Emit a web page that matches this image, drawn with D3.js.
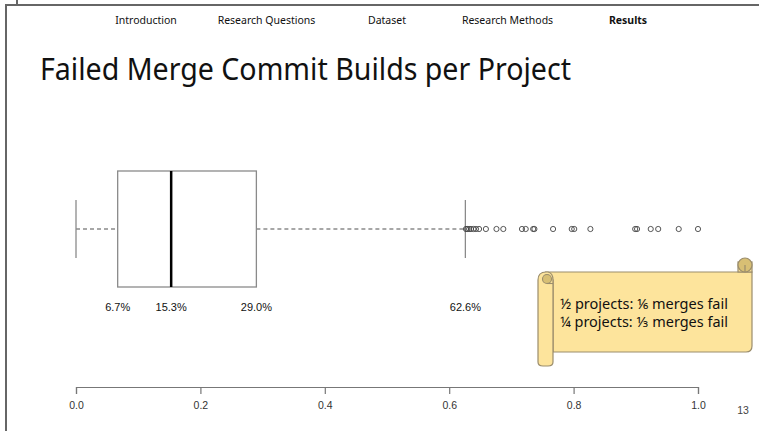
<!DOCTYPE html>
<html>
<head>
<meta charset="utf-8">
<script src="https://cdn.jsdelivr.net/npm/d3@7"></script>
<style>
  html, body { margin: 0; padding: 0; background: #fff; }
  svg { display: block; }
</style>
</head>
<body>
<svg id="slide" width="759" height="431"></svg>
<script>
// Navigation entries along the top of the slide
const navItems = ["Introduction", "Research Questions", "Dataset", "Research Methods", "Results"];
const navActive = "Results";

// Box-plot summary of failed merge-commit build share per project
const boxStats = { low: 0.0, q1: 0.067, median: 0.153, q3: 0.290, high: 0.626 };
const labelledStats = [0.067, 0.153, 0.290, 0.626];
const outliers = [0.627, 0.629, 0.632, 0.635, 0.639, 0.643, 0.648, 0.659, 0.676, 0.687,
                  0.717, 0.723, 0.735, 0.737, 0.767, 0.797, 0.801, 0.827, 0.899, 0.902,
                  0.924, 0.936, 0.969, 1.0];
const axisTicks = [0, 0.2, 0.4, 0.6, 0.8, 1.0];

const noteLines = ["½ projects: ⅙ merges fail", "¼ projects: ⅓ merges fail"];

const svg = d3.select("#slide");
const W = 759, H = 431;

// Slide frame
const frame = svg.append("g").attr("stroke", "#666").attr("stroke-width", 2).attr("fill", "none");
frame.append("line").attr("x1", 6).attr("y1", 5).attr("x2", W).attr("y2", 5);
frame.append("line").attr("x1", 6).attr("y1", 4).attr("x2", 6).attr("y2", H);
frame.append("line").attr("x1", 17).attr("y1", 0).attr("x2", 17).attr("y2", 5);

// Navigation bar
const navX = d3.scalePoint().domain(navItems).range([146, 628]);
svg.append("g").selectAll("text").data(navItems).join("text")
  .attr("x", d => navX(d)).attr("y", 24)
  .attr("text-anchor", "middle")
  .attr("font-family", "'Noto Sans', sans-serif")
  .attr("font-size", 10.5)
  .attr("font-weight", d => d === navActive ? "bold" : "normal")
  .attr("fill", "#111")
  .text(d => d);

// Title
svg.append("text")
  .attr("x", 40).attr("y", 80)
  .attr("font-family", "'Noto Sans', sans-serif")
  .attr("font-size", 31)
  .attr("textLength", 531).attr("lengthAdjust", "spacingAndGlyphs")
  .attr("fill", "#111")
  .text("Failed Merge Commit Builds per Project");

// Scales
const x = d3.scaleLinear().domain([0, 1]).range([76, 698]);
const cy = 229, boxHalf = 58, capHalf = 29;

const plot = svg.append("g");

// Whiskers (dashed)
plot.selectAll("line.whisker").data([[boxStats.low, boxStats.q1], [boxStats.q3, boxStats.high]]).join("line")
  .attr("class", "whisker")
  .attr("x1", d => x(d[0])).attr("x2", d => x(d[1]))
  .attr("y1", cy).attr("y2", cy)
  .attr("stroke", "#8a8a8a").attr("stroke-width", 1.3)
  .attr("stroke-dasharray", "4,3");

// Whisker caps
plot.selectAll("line.cap").data([boxStats.low, boxStats.high]).join("line")
  .attr("class", "cap")
  .attr("x1", d => x(d)).attr("x2", d => x(d))
  .attr("y1", cy - capHalf).attr("y2", cy + capHalf)
  .attr("stroke", "#8a8a8a").attr("stroke-width", 1.3);

// Box
plot.append("rect")
  .attr("x", x(boxStats.q1)).attr("y", cy - boxHalf)
  .attr("width", x(boxStats.q3) - x(boxStats.q1)).attr("height", boxHalf * 2)
  .attr("fill", "none").attr("stroke", "#8a8a8a").attr("stroke-width", 1.3);

// Median
plot.append("line")
  .attr("x1", x(boxStats.median)).attr("x2", x(boxStats.median))
  .attr("y1", cy - boxHalf).attr("y2", cy + boxHalf)
  .attr("stroke", "#000").attr("stroke-width", 2.5);

// Outliers
plot.selectAll("circle.out").data(outliers).join("circle")
  .attr("class", "out")
  .attr("cx", d => x(d)).attr("cy", cy).attr("r", 2.6)
  .attr("fill", "none").attr("stroke", "#444").attr("stroke-width", 0.9);

// Percentage labels under the box
plot.selectAll("text.pct").data(labelledStats).join("text")
  .attr("class", "pct")
  .attr("x", d => x(d)).attr("y", 311)
  .attr("text-anchor", "middle")
  .attr("font-family", "'Liberation Sans', Arial, sans-serif")
  .attr("font-size", 11)
  .attr("fill", "#111")
  .text(d => d3.format(".1%")(d));

// Axis
const axis = svg.append("g")
  .attr("transform", "translate(0,387)")
  .call(d3.axisBottom(x).tickValues(axisTicks).tickFormat(d3.format(".1f")).tickSizeOuter(0).tickSize(7).tickPadding(8));
axis.select(".domain").attr("stroke", "#777").attr("stroke-width", 1.2);
axis.selectAll(".tick line").attr("stroke", "#777").attr("stroke-width", 1.2);
axis.selectAll(".tick text")
  .attr("font-family", "'Liberation Sans', Arial, sans-serif")
  .attr("font-size", 10.5)
  .attr("fill", "#333");

// Page number
svg.append("text")
  .attr("x", 743).attr("y", 414)
  .attr("text-anchor", "middle")
  .attr("font-family", "'Liberation Sans', Arial, sans-serif")
  .attr("font-size", 10.5)
  .attr("fill", "#444")
  .text("13");

// Scroll callout
const scroll = svg.append("g");
const fill = "#fde49c", dark = "#d8bf74", edge = "#9b8d6c";
// Main sheet
scroll.append("path")
  .attr("d", "M546,272 L748,272 L752,272 L752,346 Q752,352 746,352 L553,352 L553,280 Z")
  .attr("fill", fill).attr("stroke", edge).attr("stroke-width", 1.2);
// Top-right roll
scroll.append("rect").attr("x", 738).attr("y", 262).attr("width", 14).attr("height", 10)
  .attr("fill", fill).attr("stroke", edge).attr("stroke-width", 1.2);
scroll.append("circle").attr("cx", 745).attr("cy", 265).attr("r", 7)
  .attr("fill", dark).attr("stroke", edge).attr("stroke-width", 1.2);
scroll.append("path").attr("d", "M745,265 L745,272")
  .attr("stroke", edge).attr("stroke-width", 1.2);
// Left roll strip
scroll.append("path")
  .attr("d", "M538,280 Q538,272 546,272 L548,272 Q553,273 553,280 L553,362 Q553,366 548,366 L543,366 Q538,366 538,362 Z")
  .attr("fill", fill).attr("stroke", edge).attr("stroke-width", 1.2);
scroll.append("circle").attr("cx", 547).attr("cy", 279).attr("r", 4.5)
  .attr("fill", dark).attr("stroke", edge).attr("stroke-width", 1.1);
scroll.append("path").attr("d", "M547,283.5 L553,283.5")
  .attr("stroke", edge).attr("stroke-width", 1.1);

scroll.selectAll("text").data(noteLines).join("text")
  .attr("x", 560).attr("y", (d, i) => 309 + i * 18)
  .attr("font-family", "'Noto Sans', sans-serif")
  .attr("font-size", 14)
  .attr("textLength", 168).attr("lengthAdjust", "spacingAndGlyphs")
  .attr("fill", "#111")
  .text(d => d);
</script>
</body>
</html>
